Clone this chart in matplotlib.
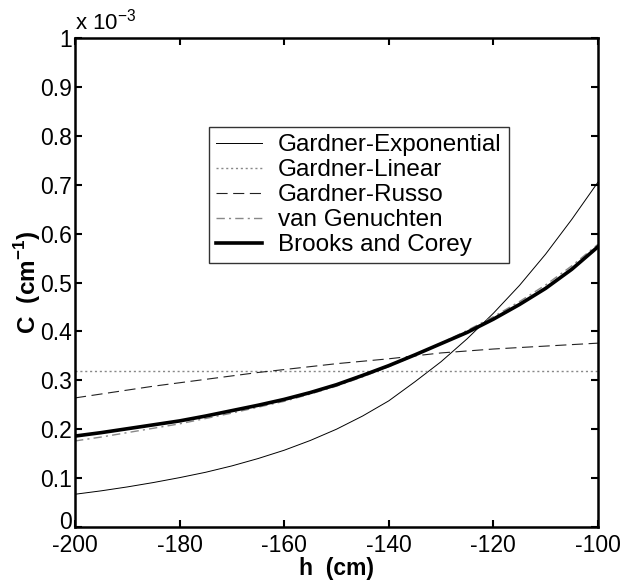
import matplotlib.pyplot as plt
from matplotlib.ticker import FuncFormatter
from matplotlib.transforms import ScaledTranslation

plt.rcParams['font.family'] = ['Liberation Sans', 'DejaVu Sans']
plt.rcParams['axes.unicode_minus'] = False

# pressure head (cm)
h = [-200, -195, -190, -185, -180, -175, -170, -165, -160, -155, -150,
     -145, -140, -135, -130, -125, -120, -115, -110, -105, -100]

# capacity values, in units of 1e-3 cm^-1
gardner_exp = [0.067, 0.074, 0.082, 0.091, 0.101, 0.112, 0.125, 0.140, 0.157, 0.177, 0.200,
               0.227, 0.258, 0.297, 0.338, 0.385, 0.437, 0.494, 0.558, 0.629, 0.705]
gardner_lin = [0.32] * len(h)
gardner_russo = [0.264, 0.272, 0.280, 0.288, 0.295, 0.302, 0.309, 0.316, 0.322, 0.328, 0.334,
                 0.339, 0.344, 0.350, 0.356, 0.360, 0.364, 0.367, 0.370, 0.373, 0.376]
van_genuchten = [0.176, 0.184, 0.193, 0.202, 0.211, 0.222, 0.233, 0.245, 0.257, 0.272, 0.288,
                 0.307, 0.328, 0.351, 0.376, 0.402, 0.430, 0.461, 0.495, 0.534, 0.578]
brooks_corey = [0.186, 0.193, 0.201, 0.209, 0.217, 0.227, 0.238, 0.249, 0.261, 0.275, 0.291,
                0.310, 0.330, 0.352, 0.375, 0.398, 0.425, 0.455, 0.488, 0.527, 0.573]

fig = plt.figure(figsize=(6.21, 5.81), dpi=100)
ax = fig.add_axes([0.1208, 0.0929, 0.842, 0.8417])

ax.plot(h, gardner_exp, color='black', lw=0.7, label='Gardner-Exponential')
ax.plot(h, gardner_lin, color='#888888', lw=1.0, ls=(0, (1.5, 2)), label='Gardner-Linear')
ax.plot(h, gardner_russo, color='#222222', lw=0.8, ls=(0, (10, 5)), label='Gardner-Russo')
ax.plot(h, van_genuchten, color='#888888', lw=1.0, ls=(0, (6, 3, 1.5, 3)), label='van Genuchten')
ax.plot(h, brooks_corey, color='black', lw=2.6, label='Brooks and Corey')

ax.set_xlim(-200, -100)
ax.set_ylim(0, 1)
ax.set_xticks([-200, -180, -160, -140, -120, -100])
ax.set_yticks([0, 0.1, 0.2, 0.3, 0.4, 0.5, 0.6, 0.7, 0.8, 0.9, 1])
ax.yaxis.set_major_formatter(FuncFormatter(lambda v, p: '%g' % round(v, 2)))

ax.tick_params(direction='in', length=5, width=1.5, labelsize=16.5, pad=2,
               top=True, right=True)
ax.tick_params(axis='x', pad=5)
for s in ax.spines.values():
    s.set_linewidth(1.8)

# lift the "0" label a little so it clears "-200"
zero_lbl = ax.yaxis.get_major_ticks()[0].label1
zero_lbl.set_transform(zero_lbl.get_transform() + ScaledTranslation(0, 5 / 72, fig.dpi_scale_trans))

ax.set_xlabel('h  (cm)', fontsize=16.5, fontweight='bold', labelpad=0)
ax.set_ylabel(r'C  (cm$^{\mathregular{-1}}$)', fontsize=17.5, fontweight='bold', labelpad=-2)
ax.text(0.0, 1.008, r'x 10$^{\mathregular{-3}}$', transform=ax.transAxes,
        fontsize=16, ha='left', va='bottom')

leg = ax.legend(loc='upper left', bbox_to_anchor=(0.256, 0.818), fontsize=17.5,
                frameon=True, fancybox=False, edgecolor='black', handlelength=1.9,
                labelspacing=0.12, borderpad=0.3, handletextpad=0.65, borderaxespad=0)
leg.get_frame().set_linewidth(1.0)

fig.savefig('out.png', dpi=100)
